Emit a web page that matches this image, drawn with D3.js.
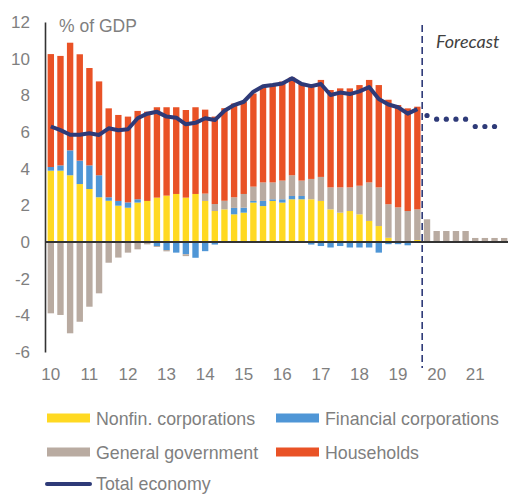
<!DOCTYPE html>
<html>
<head>
<meta charset="utf-8">
<script src="https://cdn.jsdelivr.net/npm/d3@7"></script>
<style>
  body { margin: 0; background: #fff; }
  svg text { font-family: "Liberation Sans", Arial, sans-serif; }
</style>
</head>
<body>
<div id="chart"></div>
<script>
// chart size
var svgWidth = 508;
var svgHeight = 495;

// categories: quarters 2010Q1 - 2021Q4
var years = ["10", "11", "12", "13", "14", "15", "16", "17", "18", "19", "20", "21"];
var quarters = years.flatMap(y => ["Q1", "Q2", "Q3", "Q4"].map(q => y + q));

// historical contributions, 2010Q1 - 2019Q3 (% of GDP)
var nonfin = [3.89, 3.89, 3.64, 3.16, 2.89, 2.44, 2.25, 1.98, 1.87, 2.15,
              2.24, 2.42, 2.53, 2.62, 2.42, 2.62, 2.24, 1.69, 1.78, 1.51,
              1.60, 2.15, 1.96, 2.24, 2.15, 2.33, 2.33, 2.33, 2.24, 1.78,
              1.60, 1.69, 1.51, 1.15, 0.87, 0.23, 0.00, -0.05, 0.11];
var financial = [0.20, 0.29, 1.36, 1.28, 1.29, 1.20, 0.19, 0.26, 0.29, 0.18,
                 0.00, -0.22, -0.44, -0.58, -0.67, -0.86, -0.50, -0.14, 0.00, 0.35,
                 0.27, 0.09, 0.28, 0.09, 0.18, 0.18, 0.18, -0.14, -0.22, -0.30,
                 -0.22, -0.30, -0.30, -0.30, -0.58, -0.12, -0.12, -0.13, 0.00];
var government = [-3.89, -3.98, -4.98, -4.35, -3.53, -2.80, -1.13, -0.85, -0.58, -0.40,
                  -0.13, -0.05, -0.07, 0.00, -0.10, 0.00, 0.40, 0.38, 0.47, 0.58,
                  0.75, 0.78, 1.01, 0.92, 1.02, 1.13, 0.84, 1.11, 1.31, 1.20,
                  1.38, 1.29, 1.56, 2.10, 2.11, 1.83, 1.89, 1.69, 1.67];
var households = [6.16, 5.97, 5.87, 5.80, 5.31, 5.12, 4.85, 4.69, 4.68, 4.82,
                  4.87, 4.93, 4.82, 4.73, 4.78, 4.73, 4.58, 4.77, 5.05, 5.11,
                  5.03, 5.08, 5.22, 5.37, 5.40, 5.34, 5.30, 5.03, 5.29, 5.31,
                  5.40, 5.40, 5.49, 5.59, 5.58, 5.70, 5.58, 5.60, 5.60];
var total = [6.30, 6.10, 5.85, 5.85, 5.93, 5.84, 6.20, 6.10, 6.15, 6.75,
             7.00, 7.10, 6.84, 6.78, 6.42, 6.50, 6.75, 6.65, 7.16, 7.47,
             7.65, 8.20, 8.50, 8.56, 8.65, 8.93, 8.62, 8.50, 8.62, 8.02,
             8.15, 8.07, 8.22, 8.45, 7.80, 7.50, 7.35, 7.00, 7.25];

// forecast, 2019Q4 - 2021Q4
var forecastGov = [1.24, 0.60, 0.60, 0.60, 0.60, 0.22, 0.22, 0.22, 0.22];
var forecastTotal = [6.90, 6.70, 6.70, 6.70, 6.70, 6.30, 6.30, 6.30];

var yTicks = [-6, -4, -2, 0, 2, 4, 6, 8, 10, 12];

var keys = ["nonfin", "financial", "government", "households"];
var colors = {
    nonfin: "#ffd922",
    financial: "#4f96d6",
    government: "#b9aba1",
    households: "#e95226"
};
var legendItems = [
    { key: "nonfin", label: "Nonfin. corporations", col: 0, row: 0 },
    { key: "financial", label: "Financial corporations", col: 1, row: 0 },
    { key: "government", label: "General government", col: 0, row: 1 },
    { key: "households", label: "Households", col: 1, row: 1 }
];
var navy = "#2e3a78";
var grey = "#7f7f7f";

// build table for the stack
var nHist = total.length;
var table = quarters.map(function(q, i) {
    if (i < nHist) {
        return { q: q, nonfin: nonfin[i], financial: financial[i], government: government[i], households: households[i] };
    }
    return { q: q, nonfin: 0, financial: 0, government: forecastGov[i - nHist], households: 0 };
});

var svg = d3.select("#chart").append("svg")
    .attr("width", svgWidth)
    .attr("height", svgHeight);

var x = d3.scaleBand().domain(quarters).range([46, 509]).paddingInner(0.34).paddingOuter(0.17);
var y = d3.scaleLinear().domain([-6, 12]).range([352, 22]);

// bars
var series = d3.stack().keys(keys).offset(d3.stackOffsetDiverging)(table);
svg.append("g").selectAll("g")
    .data(series)
    .join("g")
    .attr("fill", d => colors[d.key])
    .selectAll("rect")
    .data(d => d)
    .join("rect")
    .attr("x", d => x(d.data.q))
    .attr("width", x.bandwidth())
    .attr("y", d => y(Math.max(d[0], d[1])))
    .attr("height", d => Math.abs(y(d[0]) - y(d[1])));

// zero line
svg.append("line")
    .attr("x1", 45).attr("x2", 508)
    .attr("y1", y(0)).attr("y2", y(0))
    .attr("stroke", "#333").attr("stroke-width", 2);

// y axis
var yAxis = svg.append("g")
    .attr("transform", "translate(45,0)")
    .call(d3.axisLeft(y).tickValues(yTicks).tickFormat(d => String(d)).tickSize(0).tickPadding(15));
yAxis.select(".domain").attr("stroke", "#333").attr("stroke-width", 1.6);
yAxis.selectAll("text").attr("fill", grey).style("font-size", "17px");

// x axis
var xAxis = svg.append("g")
    .attr("transform", "translate(0,352)")
    .call(d3.axisBottom(x)
        .tickValues(quarters.filter(q => q.endsWith("Q1")))
        .tickFormat(q => q.slice(0, 2))
        .tickSize(0).tickPadding(16));
xAxis.select(".domain").remove();
xAxis.selectAll("text").attr("fill", grey).style("font-size", "17px");

// total economy line
var cx = i => x(quarters[i]) + x.bandwidth() / 2;
svg.append("path")
    .datum(total)
    .attr("fill", "none")
    .attr("stroke", navy)
    .attr("stroke-width", 4)
    .attr("stroke-linejoin", "round")
    .attr("d", d3.line().x((d, i) => cx(i)).y(d => y(d)));

// forecast dots
svg.append("g").selectAll("circle")
    .data(forecastTotal)
    .join("circle")
    .attr("cx", (d, i) => cx(nHist + i))
    .attr("cy", d => y(d))
    .attr("r", 2.6)
    .attr("fill", navy);

// forecast divider
var splitX = x(quarters[nHist]) - x.step() * x.paddingInner() / 2;
svg.append("line")
    .attr("x1", splitX).attr("x2", splitX)
    .attr("y1", 25).attr("y2", 368)
    .attr("stroke", navy).attr("stroke-width", 1.6)
    .attr("stroke-dasharray", "7,4");

svg.append("text")
    .attr("x", 436).attr("y", 48)
    .attr("fill", "#404040")
    .style("font-family", "Lato, sans-serif")
    .style("font-style", "italic")
    .style("font-size", "18px")
    .text("Forecast");

svg.append("text")
    .attr("x", 59).attr("y", 32)
    .attr("fill", grey)
    .style("font-size", "17.5px")
    .text("% of GDP");

// legend
var legend = svg.append("g");
legendItems.forEach(function(item) {
    var lx = item.col === 0 ? 47 : 276;
    var ly = 418 + item.row * 34;
    legend.append("rect")
        .attr("x", lx).attr("y", ly - 4.5)
        .attr("width", 43).attr("height", 9)
        .attr("fill", colors[item.key]);
    legend.append("text")
        .attr("x", lx + 49).attr("y", ly + 7)
        .attr("fill", grey)
        .style("font-size", "17.8px")
        .text(item.label);
});
legend.append("line")
    .attr("x1", 47).attr("x2", 90)
    .attr("y1", 484).attr("y2", 484)
    .attr("stroke", navy).attr("stroke-width", 4)
    .attr("stroke-linecap", "round");
legend.append("text")
    .attr("x", 96).attr("y", 490)
    .attr("fill", grey)
    .style("font-size", "17.8px")
    .text("Total economy");
</script>
</body>
</html>
